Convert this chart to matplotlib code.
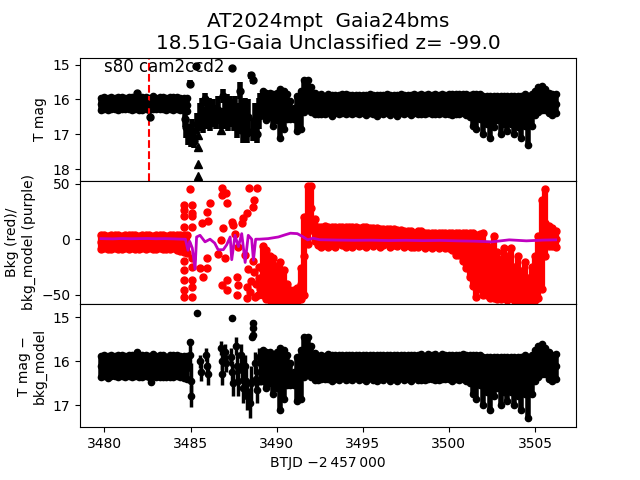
import numpy as np
import matplotlib
matplotlib.use('Agg')
import matplotlib.pyplot as plt

# quiet part before the event
t_a = [3479.8, 3480.0, 3480.2, 3480.4, 3480.6, 3480.8, 3481.0, 3481.2, 3481.4, 3481.6,
       3481.8, 3482.0, 3482.2, 3482.4, 3482.6, 3482.8, 3483.0, 3483.2, 3483.4, 3483.6,
       3483.8, 3484.0, 3484.2, 3484.4, 3484.6, 3484.8]
mag_a = [16.12, 16.10, 16.13, 16.09, 16.11, 16.12, 16.10, 16.12, 16.09, 16.11,
         16.10, 16.13, 16.11, 16.10, 16.12, 16.09, 16.12, 16.11, 16.10, 16.13,
         16.11, 16.12, 16.10, 16.12, 16.13, 16.15]
err_a_top = [0.17, 0.16, 0.18, 0.17, 0.16, 0.18, 0.17, 0.16, 0.17, 0.18,
             0.16, 0.17, 0.18, 0.16, 0.17, 0.18, 0.16, 0.17, 0.18, 0.16,
             0.17, 0.18, 0.16, 0.17, 0.18, 0.19]
err_a_bot = [0.24, 0.23, 0.25, 0.24, 0.23, 0.25, 0.24, 0.23, 0.24, 0.25,
             0.23, 0.24, 0.25, 0.23, 0.24, 0.25, 0.23, 0.24, 0.25, 0.23,
             0.24, 0.25, 0.23, 0.24, 0.25, 0.26]
bkg_a = [-2.5, -2.0, -3.0, -2.5, -2.0, -2.5, -3.0, -2.0, -2.5, -2.0,
         -2.5, -3.0, -2.0, -2.5, -2.0, -3.0, -2.5, -2.0, -2.5, -3.0,
         -2.5, -2.0, -3.0, -3.5, -4.0, -4.5]
bkg_err_a = [6, 6, 6, 6, 6, 6, 6, 6, 6, 6, 6, 6, 6, 6, 6, 6, 6, 6, 6, 6,
             6, 6, 6.5, 7, 7.5, 8]

# after the event
t_b = [3489.2, 3489.4, 3489.6, 3489.8, 3490.0, 3490.2, 3490.4, 3490.6, 3490.8, 3491.0,
       3491.2, 3491.4, 3491.6, 3491.8, 3492.0, 3492.2, 3492.4, 3492.6, 3492.8, 3493.0,
       3493.2, 3493.4, 3493.6, 3493.8, 3494.0, 3494.2, 3494.4, 3494.6, 3494.8, 3495.0,
       3495.2, 3495.4, 3495.6, 3495.8, 3496.0, 3496.2, 3496.4, 3496.6, 3496.8, 3497.0,
       3497.2, 3497.4, 3497.6, 3497.8, 3498.0, 3498.2, 3498.4, 3498.6, 3498.8, 3499.0,
       3499.2, 3499.4, 3499.6, 3499.8, 3500.0, 3500.2, 3500.4, 3500.6, 3500.8, 3501.0,
       3501.2, 3501.4, 3501.6, 3501.8, 3502.0, 3502.2, 3502.4, 3502.6, 3502.8, 3503.0,
       3503.2, 3503.4, 3503.6, 3503.8, 3504.0, 3504.2, 3504.4, 3504.6, 3504.8, 3505.0,
       3505.2, 3505.4, 3505.6, 3505.8, 3506.0, 3506.2]
mag_b = [16.10, 16.20, 16.15, 16.30, 16.20, 16.40, 16.30, 16.20, 16.30, 16.40,
         16.40, 16.30, 15.90, 15.85, 16.00, 16.12, 16.15, 16.13, 16.15, 16.12,
         16.16, 16.13, 16.15, 16.12, 16.14, 16.13, 16.15, 16.12, 16.14, 16.13,
         16.15, 16.12, 16.14, 16.16, 16.13, 16.14, 16.12, 16.15, 16.13, 16.16,
         16.12, 16.14, 16.13, 16.15, 16.12, 16.14, 16.13, 16.15, 16.12, 16.14,
         16.13, 16.15, 16.12, 16.14, 16.13, 16.15, 16.13, 16.14, 16.12, 16.15,
         16.18, 16.30, 16.35, 16.20, 16.45, 16.30, 16.50, 16.35, 16.25, 16.45,
         16.30, 16.40, 16.30, 16.45, 16.35, 16.50, 16.30, 16.60, 16.30, 16.10,
         16.00, 15.95, 16.00, 16.10, 16.15, 16.12]
err_b = [0.35, 0.40, 0.35, 0.45, 0.40, 0.70, 0.55, 0.35, 0.25, 0.15,
         0.50, 0.55, 0.45, 0.40, 0.35, 0.30, 0.27, 0.28, 0.26, 0.28,
         0.30, 0.27, 0.28, 0.27, 0.29, 0.27, 0.28, 0.26, 0.28, 0.27,
         0.29, 0.27, 0.28, 0.30, 0.27, 0.28, 0.27, 0.29, 0.27, 0.30,
         0.27, 0.28, 0.27, 0.29, 0.27, 0.28, 0.30, 0.27, 0.28, 0.27,
         0.29, 0.27, 0.28, 0.27, 0.28, 0.30, 0.28, 0.29, 0.28, 0.30,
         0.32, 0.45, 0.50, 0.35, 0.55, 0.40, 0.60, 0.45, 0.35, 0.55,
         0.40, 0.50, 0.40, 0.55, 0.45, 0.60, 0.45, 0.70, 0.45, 0.35,
         0.35, 0.35, 0.30, 0.30, 0.30, 0.28]
bkg_b = [-28, -32, -35, -36, -40, -38, -42, -48, -51, -51,
         -50, -40, -15, 22, 28, 8, 3, 2, 4, 2,
         3, 2, 4, 3, 2, 3, 2, 4, 2, 3,
         2, 3, 2, 3, 1, 2, 3, 1, 2, 1,
         2, 0, 1, 0, -1, 0, 1, -1, 0, -1,
         0, -1, 0, -1, -1, -2, -4, -4, -7, -10,
         -14, -18, -24, -20, -22, -28, -30, -25, -33, -36,
         -30, -35, -30, -40, -35, -42, -38, -45, -40, -35,
         -25, -5, 15, 3, 2, 0]
bkg_err_b = [22, 22, 20, 19, 16, 17, 14, 8, 5, 5,
             6, 14, 35, 26, 20, 10, 8, 9, 8, 9,
             8, 9, 7, 8, 9, 8, 9, 7, 8, 8,
             9, 7, 8, 7, 8, 7, 6, 8, 7, 7,
             6, 7, 6, 7, 6, 7, 6, 7, 6, 7,
             6, 7, 6, 7, 7, 8, 10, 10, 13, 16,
             20, 24, 28, 25, 28, 22, 23, 28, 21, 18,
             22, 20, 22, 15, 20, 13, 17, 10, 15, 20,
             28, 40, 30, 9, 8, 7]

# scattered points during the event, T mag
t_top_s = [3481.9, 3482.65, 3484.65, 3484.75, 3484.85, 3484.95, 3485.0, 3485.1, 3485.2, 3485.3,
           3485.35, 3485.55, 3485.65, 3485.75, 3485.85, 3485.95, 3486.05, 3486.15, 3486.3, 3486.45,
           3486.6, 3486.75, 3486.9, 3487.0, 3487.1, 3487.2, 3487.3, 3487.4, 3487.5, 3487.6,
           3487.7, 3487.85, 3487.95, 3488.05, 3488.15, 3488.25, 3488.35, 3488.5, 3488.6, 3488.65,
           3488.75, 3488.85, 3488.95, 3489.05]
mag_top_s = [15.80, 16.50, 16.55, 16.80, 17.00, 15.55, 17.10, 16.90, 17.20, 15.05,
             16.70, 16.50, 16.30, 16.60, 16.00, 16.45, 16.30, 16.55, 16.40, 16.50,
             16.30, 16.55, 15.90, 16.40, 16.25, 16.50, 16.35, 15.10, 16.45, 16.30,
             16.60, 15.75, 16.50, 16.90, 16.40, 16.95, 16.50, 15.30, 15.45, 16.90,
             16.60, 17.00, 16.40, 16.20]
err_top_s = [0.05, 0.05, 0.25, 0.30, 0.30, 0.10, 0.25, 0.35, 0.20, 0.05,
             0.30, 0.40, 0.35, 0.35, 0.20, 0.40, 0.35, 0.35, 0.40, 0.35,
             0.40, 0.30, 0.20, 0.45, 0.40, 0.40, 0.45, 0.05, 0.45, 0.40,
             0.50, 0.25, 0.50, 0.35, 0.45, 0.30, 0.50, 0.10, 0.10, 0.30,
             0.50, 0.25, 0.45, 0.40]
t_lim = [3485.45, 3485.45, 3485.45, 3485.45, 3486.75]
mag_lim = [17.01, 17.37, 17.84, 18.19, 16.87]

# scattered points, T mag - bkg_model
t_bot_s = [3481.9, 3482.7, 3484.95, 3484.97, 3485.0, 3485.02, 3485.35, 3485.55, 3485.6, 3485.9,
           3485.95, 3486.0, 3486.75, 3486.8, 3486.85, 3487.0, 3487.05, 3487.35, 3487.39, 3487.4,
           3487.45, 3487.65, 3487.7, 3487.75, 3487.95, 3488.0, 3488.05, 3488.15, 3488.2, 3488.25,
           3488.45, 3488.5, 3488.55, 3488.6, 3488.6, 3488.62, 3488.75, 3488.8, 3488.85, 3489.0,
           3489.05]
mag_bot_s = [15.78, 16.48, 15.85, 15.56, 16.45, 16.80, 14.91, 16.00, 16.25, 15.85,
             16.10, 16.30, 15.70, 16.00, 16.30, 15.80, 16.05, 15.90, 15.02, 16.25,
             16.50, 15.65, 16.10, 16.45, 15.85, 16.20, 16.60, 16.10, 16.45, 16.80,
             16.95, 16.50, 15.45, 15.13, 15.25, 15.40, 16.05, 16.40, 16.65, 15.90,
             16.25]
err_bot_s = [0.05, 0.05, 0.25, 0.06, 0.40, 0.25, 0.05, 0.15, 0.20, 0.15,
             0.20, 0.25, 0.15, 0.20, 0.25, 0.20, 0.20, 0.20, 0.05, 0.25,
             0.30, 0.20, 0.30, 0.35, 0.25, 0.30, 0.35, 0.25, 0.30, 0.30,
             0.35, 0.40, 0.06, 0.05, 0.05, 0.07, 0.25, 0.30, 0.30, 0.20,
             0.30]

# scattered background points
t_bkg_s = [3484.64, 3484.64, 3484.64, 3484.64, 3484.64, 3484.64, 3484.64, 3484.64, 3484.64,
           3484.97, 3485.06, 3485.06, 3485.06, 3485.06, 3485.06, 3485.06, 3485.06, 3485.06, 3485.06,
           3486.13, 3485.94, 3485.64, 3486.03, 3485.94, 3485.55, 3485.94, 3485.74,
           3486.81, 3487.06, 3486.81, 3487.1, 3487.39, 3487.49, 3486.9, 3486.75, 3486.6, 3487.0,
           3487.1, 3486.81, 3487.1, 3487.68, 3487.78, 3487.68, 3488.26,
           3488.41, 3488.84, 3488.7, 3488.65, 3488.26, 3488.07, 3487.97, 3487.58, 3487.78, 3488.17,
           3488.6, 3488.7, 3488.8, 3488.9, 3489.0, 3489.05, 3488.75, 3488.95, 3488.45, 3488.3,
           3488.35, 3488.5]
bkg_s = [31, 26.5, 20.5, 11.4, -20, -27.7, -36.8, -45.8, -51.9,
         45.5, 31, 24, 20.5, 11.4, -17, -25, -36.8, -43, -51.9,
         33, 24.3, 14.4, 16, -17.2, -26.2, -26.2, -33.8,
         46.1, 41.6, 40, 32.5, 15.9, 12.9, 9.9, -0.6, -13.3, -17.2,
         -36.8, -41.3, -45.8, -33.8, -41.3, -50.4, -42.8,
         46.1, 46.1, 35.5, 29.5, 23.5, 19, 14.4, 4.8, -6.7, -14.2,
         -20, -30, -40, -50, -25, -45, -52, -35, -48, -53,
         -27, -38]

# background model (purple)
t_model = [3479.8, 3480.5, 3481.0, 3481.5, 3482.0, 3482.5, 3483.0, 3483.5, 3484.0, 3484.5,
           3484.7, 3484.85, 3484.95, 3485.1, 3485.26, 3485.35, 3485.55, 3485.84, 3486.13, 3486.4,
           3486.6, 3486.9, 3487.1, 3487.3, 3487.39, 3487.58, 3487.78, 3487.97, 3488.17, 3488.35,
           3488.55, 3488.65, 3488.78, 3489.0, 3489.5, 3490.1, 3490.5, 3490.8, 3491.2, 3491.5,
           3491.8, 3492.1, 3492.5, 3493.5, 3494.5, 3495.5, 3496.5, 3497.5, 3498.5, 3499.5,
           3500.5, 3501.5, 3502.5, 3503.5, 3504.5, 3505.5, 3506.2]
model = [0.5, 0.3, 0.6, 0.4, 0.5, 0.6, 0.4, 0.5, 0.3, 0.0,
         0.0, -10.0, -2.0, -8.0, -27.0, 2.0, 3.5, -2.4, 0.0, -3.5,
         -9.5, -9.5, -5.0, 2.0, -18.5, 3.5, -6.7, 5.0, -21.0, 3.5,
         0.0, -19.0, 0.0, 0.0, 0.5, 2.0, 4.0, 5.4, 5.0, 2.4,
         -0.6, 0.9, -0.5, -0.8, -1.0, -0.9, -1.2, -1.0, -1.3, -1.1,
         -1.5, -1.8, -2.4, -0.6, -1.5, -0.8, -0.6]

t_disc = 3482.6


def band(ax, t, y, e, color, ms, lw):
    # dense points drawn as thick error bars, with dots at both ends
    t, y, e = np.asarray(t), np.asarray(y), np.asarray(e)
    ax.errorbar(t, y, yerr=e, fmt='o', color=color, ms=ms, elinewidth=lw, capsize=0)
    ax.plot(t, y - e, 'o', color=color, ms=ms)
    ax.plot(t, y + e, 'o', color=color, ms=ms)


fig, (ax1, ax2, ax3) = plt.subplots(3, 1, sharex=True, figsize=(6.4, 4.8), dpi=100)
plt.subplots_adjust(hspace=0)

band(ax1, t_a, mag_a, err_a_top, 'k', 4.5, 4)
band(ax1, t_b, mag_b, err_b, 'k', 4.5, 4)
ax1.errorbar(t_top_s, mag_top_s, yerr=err_top_s, fmt='o', color='k', ms=5, elinewidth=4, capsize=0)
ax1.plot(t_lim, mag_lim, '^k', ms=6)
ax1.axvline(t_disc, color='r', ls='--', lw=1.5)
ax1.text(3480, 15.2, 's80 cam2ccd2', fontsize=12)
ax1.set_ylim(18.33, 14.8)
ax1.set_ylabel('T mag')
ax1.set_title('AT2024mpt  Gaia24bms\n18.51G-Gaia Unclassified z= -99.0', fontsize=14.4)

band(ax2, t_a, bkg_a, bkg_err_a, 'r', 5, 4.5)
band(ax2, t_b, bkg_b, bkg_err_b, 'r', 5, 4.5)
ax2.plot(t_bkg_s, bkg_s, 'o', color='r', ms=5)
ax2.plot(t_model, model, color='m', lw=2, zorder=5)
ax2.set_ylim(-58.5, 52.7)
ax2.set_ylabel('Bkg (red)/\nbkg_model (purple)')

band(ax3, t_a, mag_a, err_a_bot, 'k', 4.5, 4)
band(ax3, t_b, mag_b, err_b, 'k', 4.5, 4)
ax3.errorbar(t_bot_s, mag_bot_s, yerr=err_bot_s, fmt='o', color='k', ms=4.5, elinewidth=2.5, capsize=0)
ax3.set_ylim(17.5, 14.7)
ax3.set_ylabel('T mag \u2212\nbkg_model')
ax3.set_xlim(3478.58, 3507.38)
ax3.set_xlabel('BTJD \u22122\u2009457\u2009000')

plt.savefig('out.png')
